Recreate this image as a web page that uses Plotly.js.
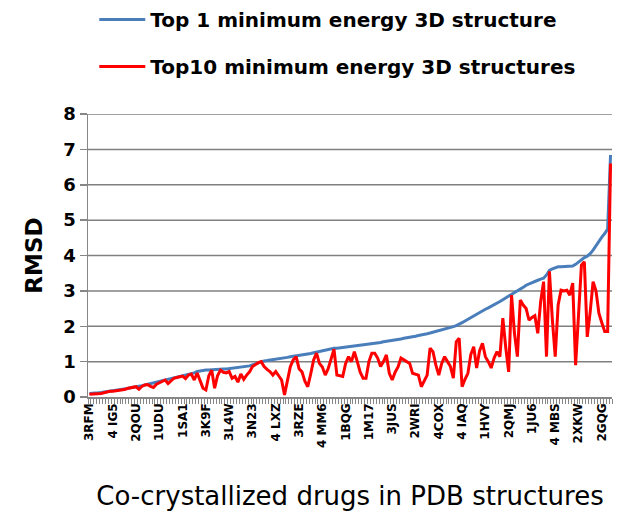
<!DOCTYPE html>
<html>
<head>
<meta charset="utf-8">
<script src="https://cdn.plot.ly/plotly-3.0.1.min.js"></script>
<style>
  html, body { margin: 0; padding: 0; background: #fff; }
  #chart { width: 619px; height: 521px; }
</style>
</head>
<body>
<div id="chart"></div>
<script>
// RMSD of the top 1 minimum energy structure, sorted ascending (180 drugs)
var top1 = [
  0.10, 0.10, 0.11, 0.12, 0.13, 0.14, 0.15, 0.17, 0.18, 0.19,
  0.20, 0.21, 0.23, 0.24, 0.26, 0.27, 0.29, 0.30, 0.32, 0.34,
  0.36, 0.38, 0.40, 0.42, 0.44, 0.46, 0.48, 0.50, 0.52, 0.54,
  0.56, 0.58, 0.59, 0.61, 0.63, 0.65, 0.68, 0.72, 0.74, 0.75,
  0.76, 0.76, 0.77, 0.77, 0.78, 0.78, 0.79, 0.79, 0.80, 0.80,
  0.82, 0.84, 0.85, 0.86, 0.87, 0.88, 0.91, 0.94, 0.98, 1.01,
  1.02, 1.03, 1.04, 1.05, 1.06, 1.07, 1.09, 1.10, 1.12, 1.14,
  1.15, 1.17, 1.18, 1.19, 1.20, 1.21, 1.23, 1.25, 1.27, 1.29,
  1.31, 1.33, 1.35, 1.37, 1.38, 1.38, 1.39, 1.40, 1.41, 1.42,
  1.43, 1.44, 1.45, 1.46, 1.47, 1.47, 1.48, 1.50, 1.51, 1.53,
  1.54, 1.56, 1.57, 1.59, 1.60, 1.61, 1.63, 1.64, 1.66, 1.67,
  1.69, 1.70, 1.72, 1.74, 1.75, 1.77, 1.79, 1.81, 1.83, 1.85,
  1.87, 1.89, 1.91, 1.93, 1.96, 1.99, 2.02, 2.05, 2.10, 2.15,
  2.20, 2.25, 2.30, 2.35, 2.40, 2.44, 2.48, 2.52, 2.56, 2.60,
  2.65, 2.70, 2.75, 2.80, 2.84, 2.88, 2.93, 2.98, 3.04, 3.10,
  3.16, 3.20, 3.24, 3.27, 3.30, 3.33, 3.36, 3.45, 3.58, 3.62,
  3.65, 3.68, 3.68, 3.68, 3.68, 3.68, 3.70, 3.75, 3.82, 3.88,
  3.94, 3.98, 4.05, 4.15, 4.28, 4.40, 4.52, 4.62, 4.75, 6.84
];

// lowest RMSD among the top 10 minimum energy structures, same order
var top10 = [
  0.08, 0.08, 0.09, 0.10, 0.10, 0.12, 0.15, 0.16, 0.16, 0.17,
  0.17, 0.18, 0.21, 0.24, 0.26, 0.27, 0.29, 0.22, 0.30, 0.34,
  0.35, 0.30, 0.27, 0.36, 0.40, 0.44, 0.48, 0.38, 0.47, 0.53,
  0.55, 0.57, 0.59, 0.52, 0.62, 0.65, 0.48, 0.68, 0.45, 0.25,
  0.20, 0.60, 0.76, 0.25, 0.60, 0.76, 0.70, 0.68, 0.72, 0.53,
  0.58, 0.42, 0.65, 0.50, 0.62, 0.71, 0.86, 0.92, 0.97, 1.00,
  0.86, 0.78, 0.72, 0.62, 0.72, 0.60, 0.48, 0.06, 0.50, 0.86,
  1.05, 1.14, 0.80, 0.71, 0.45, 0.29, 0.65, 1.05, 1.24, 0.95,
  0.85, 0.62, 0.80, 1.10, 1.35, 0.62, 0.60, 0.58, 0.95, 1.14,
  1.00, 1.28, 1.00, 0.70, 0.53, 0.53, 1.00, 1.24, 1.24, 1.10,
  0.86, 1.00, 1.19, 0.67, 0.48, 0.70, 0.85, 1.10, 1.05, 1.00,
  0.95, 0.67, 0.65, 0.62, 0.29, 0.45, 0.62, 1.38, 1.28, 0.90,
  0.62, 0.95, 1.14, 1.00, 0.86, 0.53, 1.56, 1.66, 0.29, 0.50,
  0.67, 1.20, 1.42, 0.82, 1.30, 1.52, 1.14, 1.00, 0.82, 1.10,
  1.28, 1.14, 2.23, 1.40, 0.71, 2.88, 1.80, 1.14, 2.74, 2.60,
  2.50, 2.17, 2.25, 2.30, 1.80, 2.70, 3.26, 1.14, 3.55, 2.20,
  1.14, 2.60, 3.02, 3.00, 3.02, 2.88, 3.22, 0.90, 2.50, 3.73,
  3.82, 1.70, 2.40, 3.26, 3.00, 2.37, 2.10, 1.85, 1.85, 6.60
];

// every 8th PDB code is printed on the axis
var pdbLabels = ["3RFM", "4 IG5", "2QOU", "1UDU", "1SA1", "3K9F", "3L4W", "3N23",
  "4 LXZ", "3RZE", "4 MM6", "1BQG", "1M17", "3JUS", "2WRI", "4COX", "4 IAQ",
  "1HVY", "2QMJ", "1JU6", "4 MBS", "2XKW", "2GQG"];
var labelStep = 8;
var rmsdTicks = [1, 2, 3, 4, 5, 6, 7, 8];

var idx = top1.map(function (v, i) { return i; });
var labelPos = pdbLabels.map(function (s, k) { return k * labelStep; });
var xLo = -0.5, xHi = idx.length - 0.5;

var fam = "DejaVu Sans, sans-serif";
var grey = "#868686";

// the axis grid would not render, so the gridlines go in as a plain line trace
var gx = [], gy = [];
rmsdTicks.forEach(function (v) {
  gx.push(xLo, xHi, null);
  gy.push(v, v, null);
});

var traces = [
  {
    x: gx, y: gy, type: "scatter", mode: "lines",
    showlegend: false, hoverinfo: "skip", connectgaps: false,
    line: { color: "#808080", width: 1.5 }
  },
  {
    x: idx, y: top1, type: "scatter", mode: "lines",
    name: "Top 1 minimum energy 3D structure", legendgroup: "a",
    line: { color: "#4a7ebb", width: 3 }
  },
  {
    x: idx, y: top10, type: "scatter", mode: "lines",
    name: "Top10 minimum energy 3D structures", legendgroup: "b",
    line: { color: "#ff0000", width: 3 }
  }
];

var layout = {
  width: 619, height: 521,
  margin: { l: 88, r: 7, t: 114, b: 124 },
  paper_bgcolor: "#fff", plot_bgcolor: "#fff",
  font: { family: fam, color: "#000" },
  showlegend: true,
  legend: {
    xref: "paper", yref: "container",
    x: 0.012, y: 1.013, xanchor: "left", yanchor: "top",
    traceorder: "grouped", tracegroupgap: 18, itemwidth: 46,
    font: { family: fam, size: 20, weight: 700, color: "#000" },
    bgcolor: "rgba(0,0,0,0)"
  },
  xaxis: {
    range: [xLo, xHi],
    tickmode: "array", tickvals: labelPos, ticktext: pdbLabels,
    tickangle: -90, ticks: "",
    tickfont: { family: fam, size: 12, weight: 700, color: "#000" },
    showgrid: false, zeroline: false,
    showline: true, linecolor: grey, linewidth: 1.5,
    minor: { tickmode: "linear", tick0: -0.5, dtick: 1, ticks: "outside", ticklen: 5, tickcolor: grey, tickwidth: 1, showgrid: false },
    title: { text: "Co-crystallized drugs in PDB structures", font: { family: fam, size: 26, color: "#000" }, standoff: 39 },
    automargin: false, fixedrange: true
  },
  yaxis: {
    range: [0, 8], tickmode: "linear", dtick: 1, tick0: 0,
    ticks: "outside", ticklen: 7, tickcolor: grey, tickwidth: 1.5,
    tickfont: { family: fam, size: 18, weight: 700, color: "#000" },
    showgrid: false,
    zeroline: false, showline: true, linecolor: grey, linewidth: 1.5,
    title: { text: "RMSD", font: { family: fam, size: 23, weight: 700, color: "#000" }, standoff: 14 },
    automargin: false, fixedrange: true
  }
};

Plotly.newPlot("chart", traces, layout, { displayModeBar: false, staticPlot: true });
</script>
</body>
</html>
